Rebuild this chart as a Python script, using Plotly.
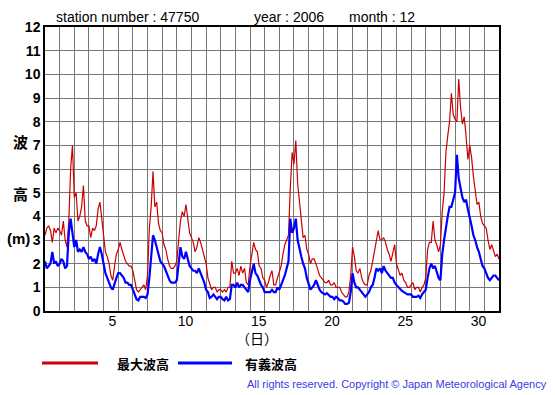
import numpy as np
import plotly.graph_objects as go

# 3-hourly readings, Dec 2006, station 47750 (one row per day, 00h..21h)
max_wave = [
    3.2, 3.5, 3.6, 3.4, 2.9, 3.5, 3.3, 3.5,   # 1
    3.4, 3.2, 3.8, 3.0, 2.7, 3.8, 6.0, 7.0,   # 2
    4.8, 5.0, 3.8, 4.0, 4.4, 5.3, 3.8, 3.6,   # 3
    3.6, 3.1, 3.5, 3.4, 3.6, 4.3, 4.6, 3.8,   # 4
    3.2, 2.5, 2.3, 2.0, 1.5, 1.3, 1.9, 2.4,   # 5
    2.6, 2.9, 2.6, 2.3, 2.1, 2.0, 1.9, 1.9,   # 6
    1.7, 1.3, 0.9, 0.8, 0.9, 1.0, 1.1, 0.9,   # 7
    1.5, 3.5, 4.4, 5.9, 4.4, 4.6, 3.7, 3.4,   # 8
    3.3, 2.8, 2.6, 2.2, 1.9, 1.8, 1.8, 1.9,   # 9
    2.1, 3.0, 3.8, 4.2, 4.0, 4.5, 3.9, 3.3,   # 10
    3.1, 2.9, 2.5, 2.7, 3.1, 2.9, 2.6, 2.3,   # 11
    2.0, 1.4, 1.1, 0.9, 1.0, 1.0, 0.8, 0.9,   # 12
    0.9, 0.8, 0.9, 0.8, 1.0, 1.0, 2.1, 1.6,   # 13
    1.6, 1.8, 1.5, 1.9, 1.6, 1.8, 1.2, 1.1,   # 14
    1.9, 2.5, 2.9, 2.6, 2.5, 1.9, 1.8, 1.4,   # 15
    1.3, 1.0, 1.2, 1.5, 1.7, 1.1, 1.1, 1.4,   # 16
    1.7, 1.9, 2.4, 2.8, 3.0, 3.2, 5.2, 6.7,   # 17
    6.2, 7.2, 5.4, 4.6, 3.8, 3.1, 3.2, 2.6,   # 18
    2.4, 2.0, 2.2, 2.2, 2.0, 1.7, 1.5, 1.4,   # 19
    1.3, 1.2, 1.2, 1.3, 1.1, 1.1, 1.2, 1.0,   # 20
    1.0, 1.0, 0.8, 0.7, 0.6, 0.6, 0.8, 1.5,   # 21
    2.7, 2.3, 1.7, 1.6, 1.8, 1.4, 1.2, 1.1,   # 22
    1.1, 1.5, 1.7, 2.1, 2.6, 3.0, 3.4, 3.0,   # 23
    3.0, 3.1, 2.9, 2.6, 2.4, 2.1, 2.5, 2.8,   # 24
    2.0, 1.7, 1.5, 1.6, 1.3, 1.2, 1.0, 1.0,   # 25
    1.1, 1.2, 0.9, 1.0, 1.0, 0.8, 1.0, 1.1,   # 26
    1.4, 2.6, 2.9, 2.9, 3.8, 3.0, 2.8, 2.5,   # 27
    2.8, 4.2, 5.0, 6.7, 7.4, 8.0, 9.2, 8.3,   # 28
    8.1, 8.0, 9.8, 8.6, 7.9, 8.2, 7.4, 6.4,   # 29
    7.0, 6.5, 5.7, 5.0, 4.5, 4.6, 4.0, 3.7,   # 30
    3.6, 3.5, 3.0, 2.6, 2.8, 2.5, 2.3, 2.4,   # 31
    2.2,
]

sig_wave = [
    2.1, 1.8, 1.9, 2.0, 2.5, 2.0, 2.1, 1.9,   # 1
    2.0, 2.2, 2.1, 1.8, 1.9, 3.3, 3.9, 3.4,   # 2
    2.7, 3.0, 2.5, 2.6, 2.5, 2.7, 2.5, 2.4,   # 3
    2.2, 2.3, 2.1, 2.2, 2.0, 2.4, 2.7, 2.4,   # 4
    2.0, 1.6, 1.4, 1.2, 1.0, 0.9, 1.2, 1.4,   # 5
    1.6, 1.6, 1.5, 1.4, 1.2, 1.2, 1.1, 1.1,   # 6
    0.9, 0.7, 0.5, 0.45, 0.6, 0.6, 0.6, 0.55, # 7
    0.7, 1.4, 2.2, 3.2, 3.0, 2.7, 2.4, 2.1,   # 8
    2.0, 1.9, 1.7, 1.5, 1.3, 1.2, 1.2, 1.2,   # 9
    1.3, 2.0, 2.7, 2.3, 2.2, 2.5, 2.2, 1.9,   # 10
    1.8, 1.7, 1.7, 1.6, 1.8, 1.6, 1.4, 1.2,   # 11
    0.9, 0.8, 0.55, 0.6, 0.7, 0.6, 0.5, 0.6,  # 12
    0.6, 0.5, 0.45, 0.6, 0.45, 0.5, 1.1, 1.1, # 13
    1.0, 1.2, 1.0, 1.1, 1.1, 1.0, 0.9, 0.8,   # 14
    1.3, 1.6, 2.0, 1.6, 1.5, 1.3, 1.1, 1.0,   # 15
    0.8, 0.8, 0.8, 0.8, 0.9, 0.8, 0.8, 1.0,   # 16
    0.9, 1.1, 1.3, 1.5, 1.8, 2.1, 3.9, 3.3,   # 17
    3.5, 3.9, 3.0, 2.6, 2.3, 2.0, 1.8, 1.4,   # 18
    1.1, 0.9, 1.0, 1.1, 1.3, 1.1, 0.9, 0.8,   # 19
    0.75, 0.7, 0.75, 0.65, 0.6, 0.6, 0.5, 0.6,  # 20
    0.55, 0.45, 0.45, 0.4, 0.3, 0.3, 0.35, 0.8, # 21
    1.6, 1.2, 1.0, 1.0, 0.9, 0.8, 0.7, 0.6,   # 22
    0.7, 0.8, 1.0, 1.1, 1.4, 1.8, 1.7, 1.8,   # 23
    1.6, 1.9, 1.7, 1.6, 1.5, 1.4, 1.4, 1.2,   # 24
    1.1, 1.0, 0.9, 0.85, 0.8, 0.75, 0.7, 0.7, # 25
    0.7, 0.6, 0.6, 0.6, 0.65, 0.55, 0.7, 0.8, # 26
    0.9, 1.4, 1.8, 2.0, 1.8, 1.9, 1.6, 1.4,   # 27
    1.3, 2.4, 3.0, 3.6, 4.0, 4.4, 4.4, 4.7,   # 28
    5.0, 6.6, 5.6, 5.2, 4.8, 4.6, 4.7, 4.3,   # 29
    4.0, 3.6, 3.2, 3.0, 2.7, 2.5, 2.2, 1.9,   # 30
    1.8, 1.6, 1.4, 1.3, 1.4, 1.5, 1.5, 1.4,   # 31
    1.3,
]

day_labels = ["5", "10", "15", "20", "25", "30"]
y_ticks = list(range(0, 13))

# elapsed days since Dec 1 00:00
t = np.arange(len(max_wave)) / 8.0
label_pos = [int(d) - 0.4 for d in day_labels]

W, H = 555, 395
L, R, T, B = 45, 56, 27, 84
pw, ph = W - L - R, H - T - B


def px(x):
    return (x - L) / pw


def py(y):
    return (H - B - y) / ph


def note(txt, x, y, font, xanchor="center"):
    return dict(text=txt, x=px(x), y=py(y), xref="paper", yref="paper",
                xanchor=xanchor, yanchor="middle", showarrow=False, font=font)


fig = go.Figure()
fig.add_trace(go.Scatter(x=t, y=max_wave, mode="lines",
                         line=dict(color="#cc0000", width=1.2),
                         name="最大波高", hoverinfo="skip"))
fig.add_trace(go.Scatter(x=t, y=sig_wave, mode="lines",
                         line=dict(color="#0000ff", width=2.2),
                         name="有義波高", hoverinfo="skip"))

grid = "#777777"
fig.update_xaxes(
    range=[0, 31], tickvals=label_pos, ticktext=day_labels,
    showgrid=False, zeroline=False, ticks="", ticklabelstandoff=-4,
    tickfont=dict(family="Liberation Sans, Arial", size=14, color="black"),
    minor=dict(tick0=0, dtick=1, showgrid=True, gridcolor=grid, gridwidth=1),
    showline=True, linecolor="black", linewidth=1.5, mirror=True,
)
fig.update_yaxes(
    range=[0, 12], tickvals=y_ticks, showgrid=True, gridcolor=grid,
    gridwidth=1, zeroline=False, ticks="",
    tickfont=dict(family="Liberation Sans, Arial", size=14, color="black",
                  weight="bold"),
    showline=True, linecolor="black", linewidth=1.5, mirror=True,
)

head = dict(family="Liberation Sans, Arial", size=14, color="black")
cjk = dict(family="Noto Sans CJK JP", size=15, color="black", weight="bold")
leg = dict(family="Noto Sans CJK JP", size=13, color="black", weight="bold")

ann = [
    note("station number : 47750", 127, 17, head),
    note("year : 2006", 289, 17, head),
    note("month : 12", 382, 17, head),
    note("波", 20, 141, cjk),
    note("高", 20, 193, cjk),
    note("(m)", 18, 238, dict(family="Liberation Sans, Arial", size=15,
                              color="black", weight="bold")),
    note("（日）", 257, 338, dict(family="Noto Sans CJK JP", size=14,
                                color="black")),
    note("最大波高", 143, 363, leg),
    note("有義波高", 271, 363, leg),
    note("All rights reserved. Copyright © Japan Meteorological Agency",
         549, 384, dict(family="Liberation Sans, Arial", size=11,
                        color="#3a3ae0"), xanchor="right"),
]

shapes = [
    dict(type="line", xref="paper", yref="paper", x0=px(42), x1=px(98),
         y0=py(363), y1=py(363), line=dict(color="#cc0000", width=3)),
    dict(type="line", xref="paper", yref="paper", x0=px(178), x1=px(232),
         y0=py(363), y1=py(363), line=dict(color="#0000ff", width=3)),
]

fig.update_layout(
    width=W, height=H, margin=dict(l=L, r=R, t=T, b=B),
    paper_bgcolor="white", plot_bgcolor="white",
    showlegend=False, annotations=ann, shapes=shapes,
)

fig.write_html("out.html", config={"displayModeBar": False},
               post_script="document.body.style.margin='0';")
